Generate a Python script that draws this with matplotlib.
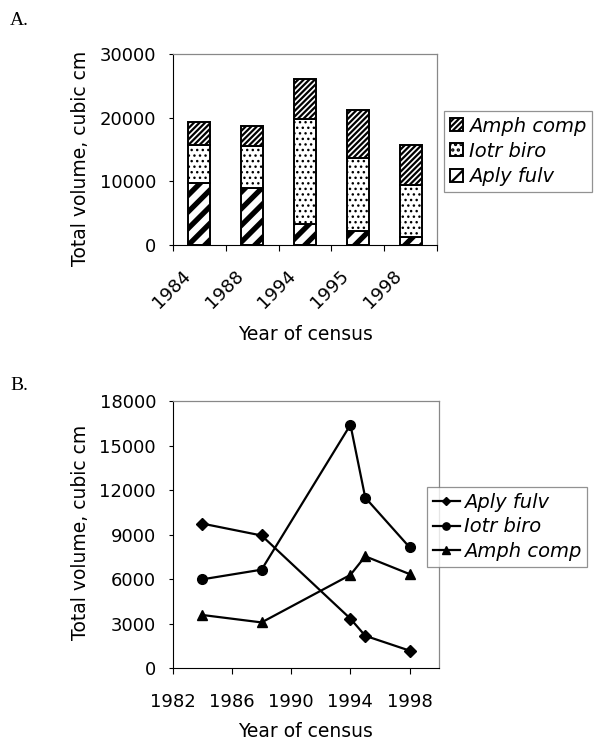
import numpy as np
import matplotlib
matplotlib.use('Agg')
import matplotlib.pyplot as plt

years = [1984, 1988, 1994, 1995, 1998]
year_labels = ['1984', '1988', '1994', '1995', '1998']
aply_fulv = [9750, 8950, 3350, 2200, 1200]
iotr_biro = [6000, 6650, 16400, 11500, 8150]
amph_comp = [3600, 3100, 6300, 7550, 6350]

plt.rcParams['font.family'] = 'DejaVu Sans'
plt.rcParams['hatch.color'] = 'black'

fig = plt.figure(figsize=(5.95, 7.44), dpi=100)

# ---- panel A: stacked bars
axA = fig.add_axes([0.2903, 0.6707, 0.4447, 0.2567])
x = np.arange(len(years))
bottom2 = np.array(aply_fulv)
bottom3 = bottom2 + np.array(iotr_biro)

plt.rcParams['hatch.linewidth'] = 3.8
b1 = axA.bar(x, aply_fulv, width=0.42, color='white', edgecolor='black',
             hatch='//', linewidth=1.4, label='Aply fulv')
plt.rcParams['hatch.linewidth'] = 1.0
b2 = axA.bar(x, iotr_biro, bottom=bottom2, width=0.42, color='white',
             edgecolor='black', hatch='...', linewidth=1.4, label='Iotr biro')
plt.rcParams['hatch.linewidth'] = 1.6
b3 = axA.bar(x, amph_comp, bottom=bottom3, width=0.42, color='white',
             edgecolor='black', hatch='//////', linewidth=1.4,
             label='Amph comp')

axA.set_xlim(-0.5, len(years) - 0.5)
axA.set_ylim(0, 30000)
axA.set_yticks([0, 10000, 20000, 30000])
axA.set_xticks(np.arange(len(years) + 1) - 0.5)
axA.set_xticklabels([])
# labels sit a bit left of the bar centres, like the original
axA.set_xticks(x - 0.34, minor=True)
axA.set_xticklabels(year_labels, minor=True, rotation=45, ha='right',
                    rotation_mode='anchor', fontsize=13)
axA.tick_params(axis='x', which='minor', length=0, pad=15.5)
axA.tick_params(axis='x', which='major', length=4.3, direction='out')
axA.tick_params(axis='y', labelsize=13, length=3, pad=9, direction='out')
axA.set_ylabel('Total volume, cubic cm', fontsize=13.5)
axA.yaxis.set_label_coords(-0.3125, 0.453)
axA.set_xlabel('Year of census', fontsize=13.5)
axA.xaxis.set_label_coords(0.5, -0.42)
for s in ['top', 'right']:
    axA.spines[s].set_color('#888888')
    axA.spines[s].set_linewidth(0.9)
leg = axA.legend(handles=[b3, b2, b1], loc='upper left',
                 bbox_to_anchor=(0.7467, 0.8512),
                 bbox_transform=fig.transFigure, frameon=True, fancybox=False,
                 prop={'style': 'italic', 'size': 14}, handlelength=0.65,
                 handleheight=0.65, handletextpad=0.3, borderaxespad=0,
                 labelspacing=0.32, borderpad=0.3)
leg.get_frame().set_edgecolor('#777777')
leg.get_frame().set_linewidth(0.9)

# ---- panel B: lines
axB = fig.add_axes([0.2903, 0.1015, 0.448, 0.3595])
axB.plot(years, aply_fulv, color='black', marker='D', markersize=6, lw=1.6,
         label='Aply fulv')
axB.plot(years, iotr_biro, color='black', marker='o', markersize=7, lw=1.6,
         label='Iotr biro')
axB.plot(years, amph_comp, color='black', marker='^', markersize=7.5, lw=1.6,
         label='Amph comp')
axB.set_xlim(1982, 2000)
axB.set_ylim(0, 18000)
axB.set_xticks([1982, 1986, 1990, 1994, 1998])
axB.set_yticks([0, 3000, 6000, 9000, 12000, 15000, 18000])
axB.tick_params(axis='y', labelsize=13, length=3, pad=9, direction='out')
axB.tick_params(axis='x', labelsize=13, length=4.3, pad=13, direction='out')
axB.set_ylabel('Total volume, cubic cm', fontsize=13.5)
axB.yaxis.set_label_coords(-0.310, 0.51)
axB.set_xlabel('Year of census', fontsize=13.5)
axB.xaxis.set_label_coords(0.5, -0.2)
for s in ['top', 'right']:
    axB.spines[s].set_color('#888888')
    axB.spines[s].set_linewidth(0.9)
legB = axB.legend(loc='upper left', bbox_to_anchor=(0.7171, 0.3458),
                  bbox_transform=fig.transFigure, frameon=True, fancybox=False,
                  prop={'style': 'italic', 'size': 14}, handlelength=1.4,
                  handletextpad=0.2, borderaxespad=0, labelspacing=0.3,
                  borderpad=0.3, markerscale=0.75)
legB.get_frame().set_edgecolor('#777777')
legB.get_frame().set_linewidth(0.9)

fig.text(0.017, 0.972, 'A.', fontsize=14, family='Liberation Serif',
         va='center')
fig.text(0.017, 0.4825, 'B.', fontsize=14, family='Liberation Serif',
         va='center')

fig.savefig('out.png', dpi=100)
